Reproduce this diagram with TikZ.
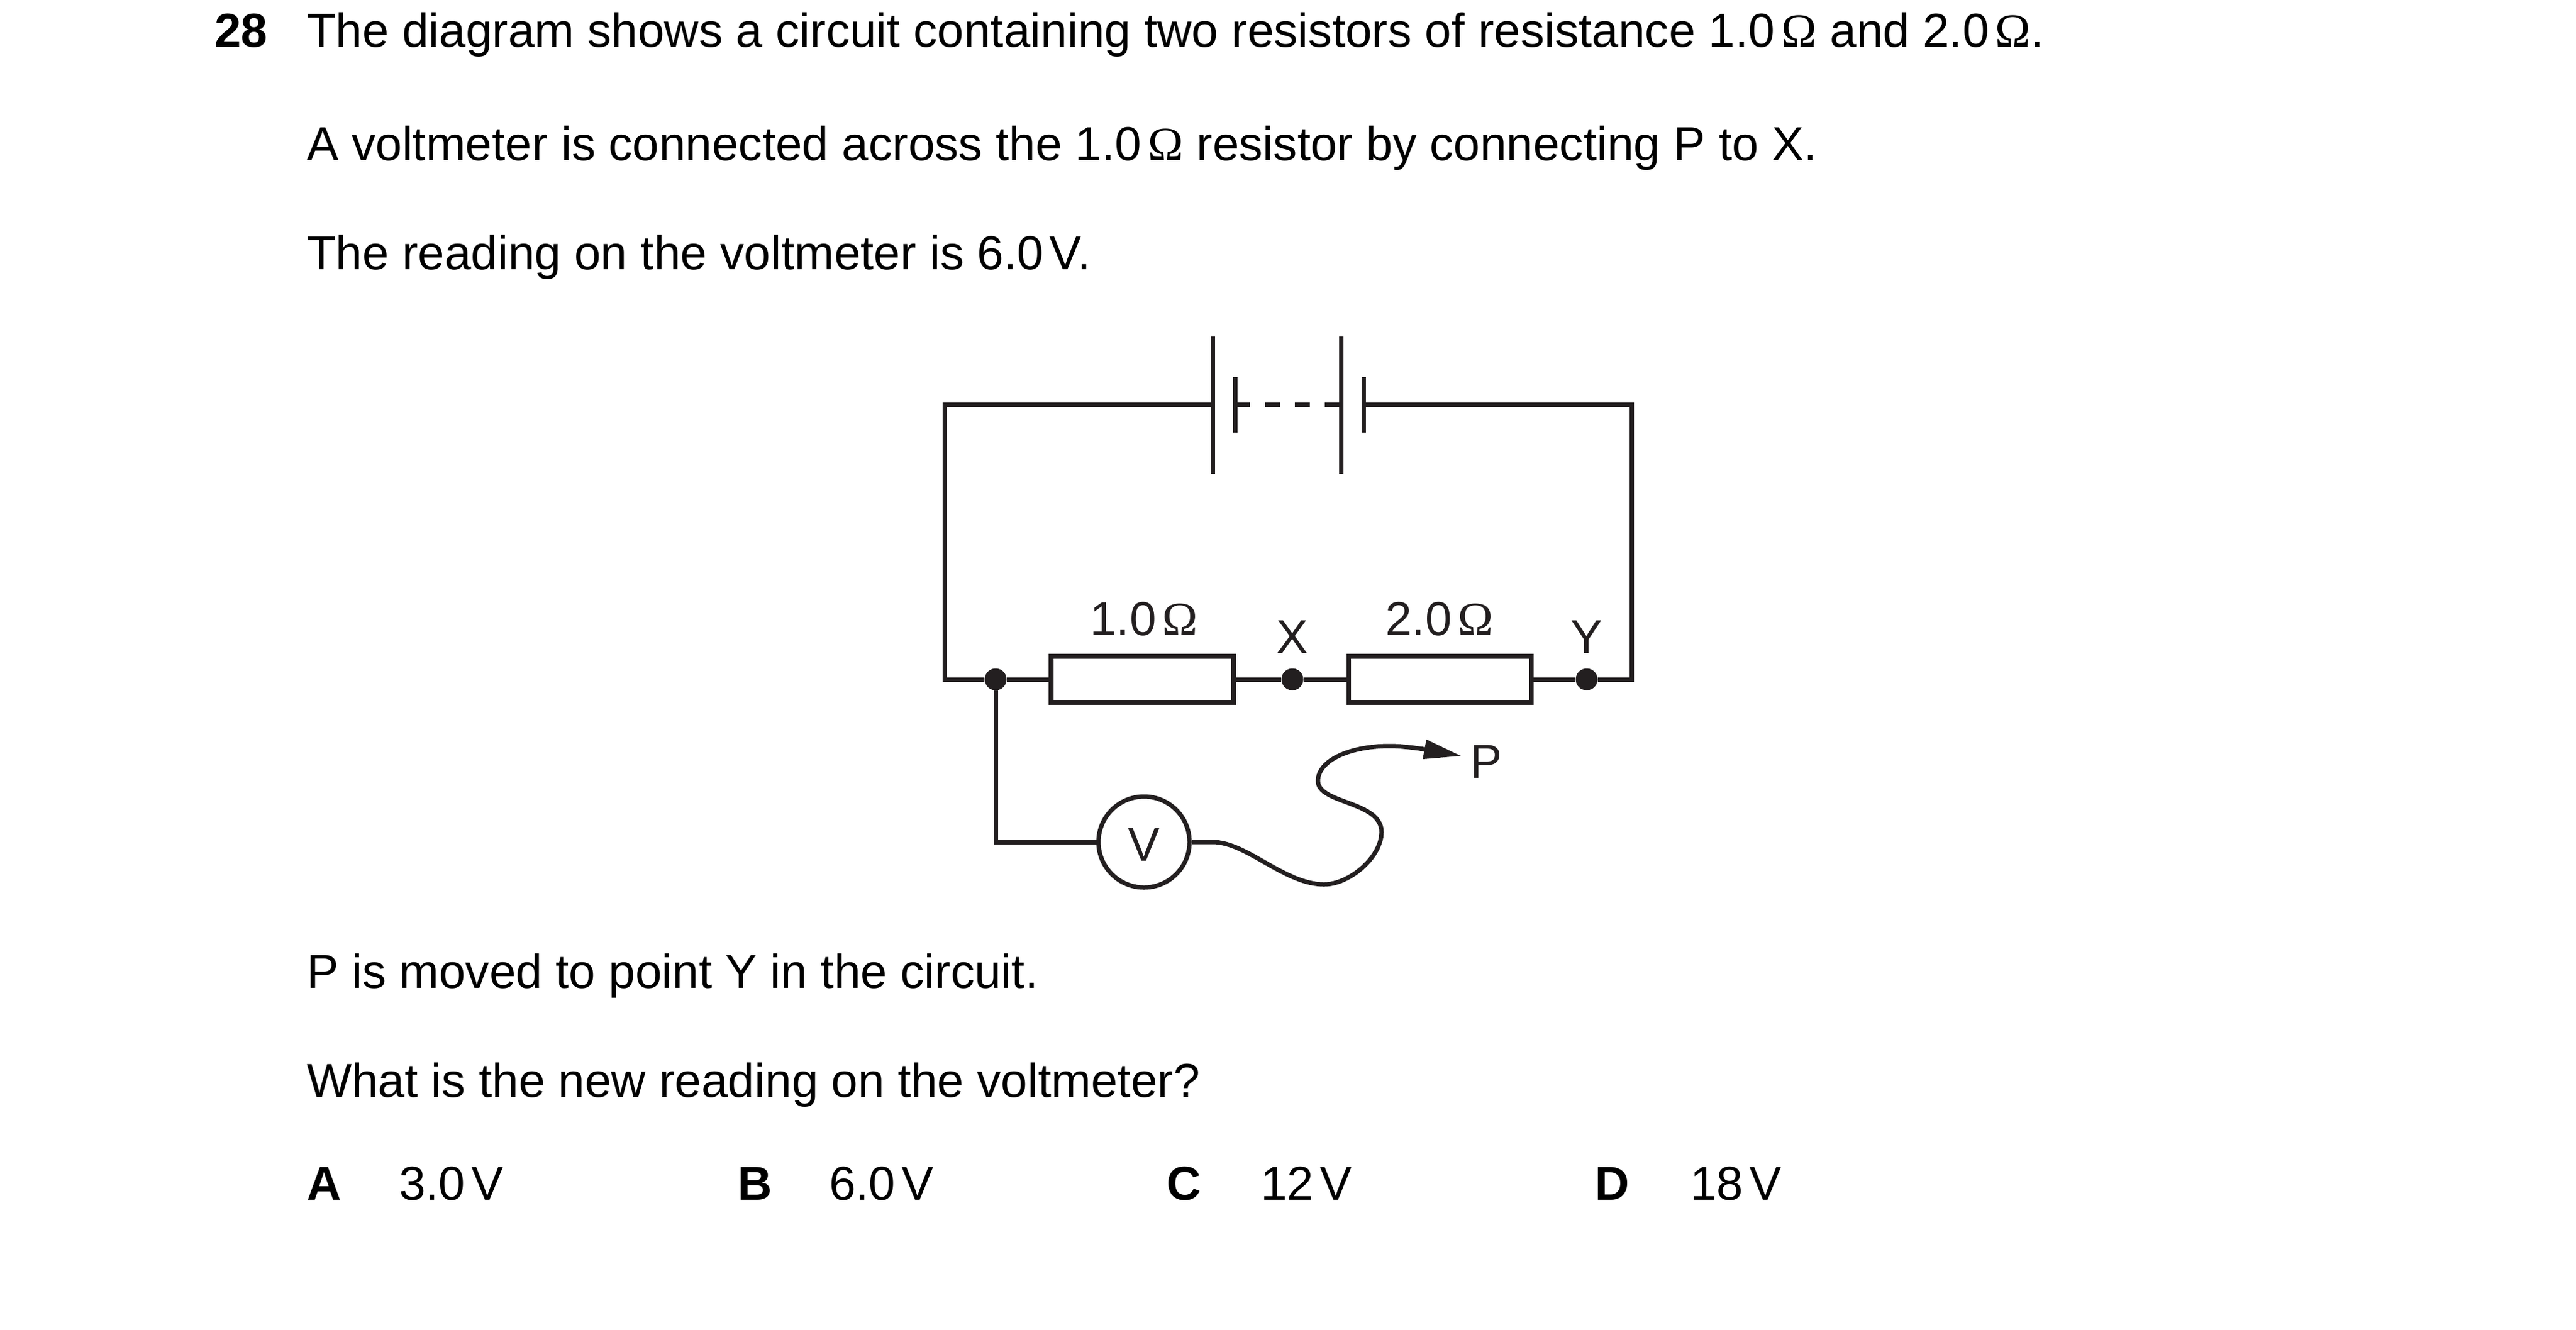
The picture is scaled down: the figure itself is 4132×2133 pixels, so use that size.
\documentclass[tikz,border=0pt]{standalone}
\usepackage{fontspec}
\setmainfont{Liberation Sans}
\newfontfamily\omfont{Liberation Serif}
\usetikzlibrary{arrows.meta}
\newcommand{\Om}{\kern5pt{\omfont Ω}}
\newcommand{\Vv}{\kern5pt V}
\definecolor{ink}{HTML}{231F20}
\tikzset{
  txt/.style={anchor=base west,inner sep=0pt,outer sep=0pt,font=\fontsize{38.25pt}{46pt}\selectfont,text=black},
  boldtxt/.style={txt,font=\fontsize{38.25pt}{46pt}\selectfont\bfseries},
  lab/.style={inner sep=0pt,outer sep=0pt,font=\fontsize{38.25pt}{46pt}\selectfont,text=ink},
  wire/.style={draw=ink,line width=3.5pt,line cap=butt,line join=miter},
  res/.style={rectangle,draw=ink,line width=3.75pt,minimum width=146.5pt,minimum height=37pt,inner sep=0pt,fill=white},
  dotn/.style={circle,fill=ink,minimum size=17.5pt,inner sep=0pt},
  meter/.style={circle,draw=ink,line width=3.5pt,minimum size=73pt,inner sep=0pt,fill=white}
}
\begin{document}
\begin{tikzpicture}[x=0.5pt,y=-0.5pt]
\useasboundingbox (0,0) rectangle (4132,2133);
% question text
\node[boldtxt] (qn) at (344,75) {28};
\node[txt] (l1) at (492,75) {The diagram shows a circuit containing two resistors of resistance 1.0\Om{} and 2.0\Om.};
\node[txt] (l2) at (492,257) {A voltmeter is connected across the 1.0\Om{} resistor by connecting P to X.};
\node[txt] (l3) at (492,432) {The reading on the voltmeter is 6.0\Vv.};
\node[txt] (l4) at (492,1585) {P is moved to point Y in the circuit.};
\node[txt] (l5) at (492,1760) {What is the new reading on the voltmeter?};
\node[boldtxt] (oa) at (492,1925) {A};
\node[txt] (va) at (640,1925) {3.0\Vv};
\node[boldtxt] (ob) at (1183,1925) {B};
\node[txt] (vb) at (1330,1925) {6.0\Vv};
\node[boldtxt] (oc) at (1871,1925) {C};
\node[txt] (vc) at (2022,1925) {12\Vv};
\node[boldtxt] (od) at (2558,1925) {D};
\node[txt] (vd) at (2711,1925) {18\Vv};
% battery
\coordinate (b1t) at (1945,540); \coordinate (b1b) at (1945,760); \coordinate (b1m) at (1945,649);
\coordinate (s1t) at (1981,605); \coordinate (s1b) at (1981,694); \coordinate (s1m) at (1981,649);
\coordinate (b2t) at (2151,540); \coordinate (b2b) at (2151,760); \coordinate (b2m) at (2151,649);
\coordinate (s2t) at (2187,605); \coordinate (s2b) at (2187,694); \coordinate (s2m) at (2187,649);
\coordinate (tl) at (1515,649); \coordinate (tr) at (2617,649);
\coordinate (bl) at (1515,1090); \coordinate (br) at (2617,1090);
\coordinate (cn) at (1597,1351); \coordinate (bend) at (1945,1351);
\coordinate (w1) at (2124,1419); \coordinate (w2) at (2216,1335);
\coordinate (w3) at (2114,1253); \coordinate (w4) at (2229,1197);
\coordinate (tip) at (2344,1213);
% components
\node[res] (r1) at (1832.5,1090) {};
\node[res] (r2) at (2310,1090) {};
\node[dotn] (j) at (1597,1090) {};
\node[dotn] (x) at (2073,1090) {};
\node[dotn] (y) at (2545,1090) {};
\node[meter] (v) at (1835,1351) {};
% connectors
\draw[wire] (b1t) -- (b1b);
\draw[wire] (s1t) -- (s1b);
\draw[wire] (b2t) -- (b2b);
\draw[wire] (s2t) -- (s2b);
\draw[wire] (b1m) -- (tl) -- (bl) -- (j);
\draw[wire] (s2m) -- (tr) -- (br) -- (y);
\draw[wire,dash pattern=on 12pt off 12pt] (s1m) -- (b2m);
\draw[wire] (j) -- (r1);
\draw[wire] (r1) -- (x);
\draw[wire] (x) -- (r2);
\draw[wire] (r2) -- (y);
\draw[wire] (j) -- (cn) -- (v);
\draw[wire,-{Triangle[length=30pt,width=15pt,color=ink]}] (v) -- (bend)
  .. controls (2000,1351) and (2060,1419) .. (w1)
  .. controls (2165,1419) and (2216,1375) .. (w2)
  .. controls (2216,1285) and (2114,1290) .. (w3)
  .. controls (2114,1220) and (2165,1197) .. (w4)
  .. controls (2260,1197) and (2300,1205) .. (tip);
% labels
\node[lab,anchor=base] (l1r) at (1835,1019) {1.0\Om};
\node[lab,anchor=base] (l2r) at (2309,1019) {2.0\Om};
\node[lab,anchor=base] (lx) at (2073,1048) {X};
\node[lab,anchor=base] (ly) at (2545,1048) {Y};
\node[lab,anchor=base] (lv) at (1835,1381) {V};
\node[lab,anchor=base west] (lp) at (2358,1248) {P};
\end{tikzpicture}
\end{document}
